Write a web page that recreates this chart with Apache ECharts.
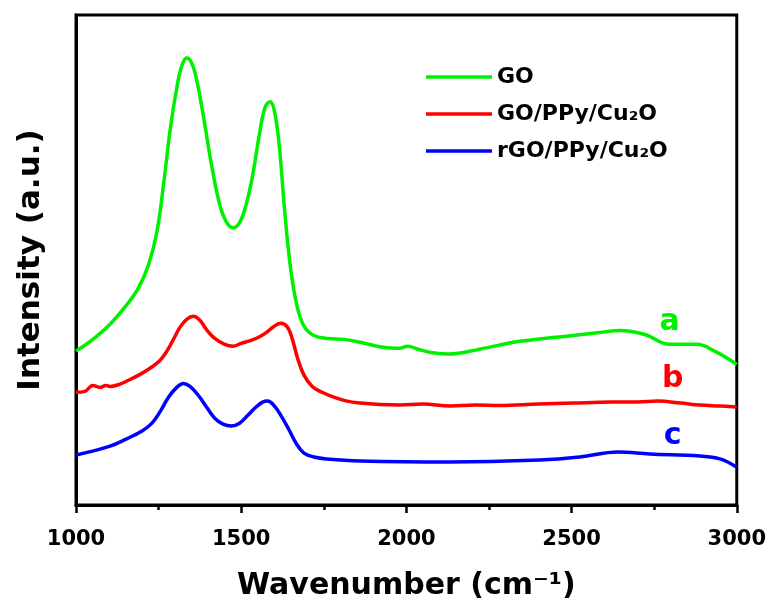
<!DOCTYPE html>
<html>
<head>
<meta charset="utf-8">
<script src="https://cdn.jsdelivr.net/npm/echarts@6/dist/echarts.min.js"></script>
<style>html,body{margin:0;padding:0;background:#fff}#c{width:769px;height:606px}</style>
</head>
<body>
<div id="c"></div>
<script>
// Wavenumber positions and intensities (arbitrary units)
const goX = [1000,1051,1103,1154,1190,1220,1245,1265,1285,1305,1320,1335,1350,1365,1385,1410,1435,1455,1475,1495,1515,1535,1555,1572,1587,1600,1615,1630,1648,1668,1690,1720,1760,1810,1860,1930,1980,2005,2035,2086,2129,2222,2343,2504,2585,2646,2722,2797,2879,2933,3000];
const goY = [31.4,33.8,36.9,40.9,44.4,49.1,55.8,65.4,76.6,85.1,89.6,91.2,90.2,86.8,79.6,69.5,61.3,57.8,56.6,57.6,61.3,67.4,75.6,81.1,82.3,80.6,73.5,61.3,49.1,40.9,36.5,34.6,34.0,33.8,33.2,32.2,32.0,32.4,31.8,31.0,30.8,31.8,33.4,34.6,35.2,35.6,34.8,32.8,32.8,31.4,28.7];

const gppX = [1000,1027,1051,1073,1090,1103,1130,1154,1190,1224,1254,1275,1295,1315,1335,1355,1375,1395,1420,1450,1475,1500,1530,1557,1580,1600,1620,1640,1655,1670,1690,1715,1745,1780,1820,1860,1920,1980,2050,2132,2210,2283,2400,2504,2620,2700,2761,2830,2888,2950,3000];
const gppY = [23.0,23.2,24.4,24.0,24.4,24.2,24.6,25.3,26.5,27.9,29.5,31.4,33.8,36.3,37.9,38.5,37.7,35.8,34.0,32.8,32.4,33.0,33.6,34.4,35.4,36.5,37.1,36.3,33.8,30.1,26.5,24.2,23.0,22.0,21.2,20.8,20.5,20.4,20.6,20.2,20.4,20.3,20.6,20.8,21.0,21.0,21.2,20.8,20.4,20.2,20.0];

const rgoX = [1000,1050,1103,1150,1200,1230,1255,1280,1305,1325,1345,1370,1395,1420,1445,1470,1495,1520,1545,1565,1580,1598,1620,1645,1668,1690,1720,1760,1860,2132,2404,2525,2640,2737,2888,2949,3000];
const rgoY = [10.2,11.0,12.0,13.4,15.1,16.7,19.1,22.0,24.0,24.8,24.2,22.4,20.0,17.7,16.5,16.1,16.7,18.3,20.0,21.0,21.2,20.4,18.3,15.3,12.4,10.6,9.8,9.4,9.0,8.8,9.2,9.8,10.8,10.4,10.0,9.4,7.7];

const seriesNames = ['GO', 'GO/PPy/Cu\u2082O', 'rGO/PPy/Cu\u2082O'];
const curveLetters = ['a', 'b', 'c'];
const xTicks = [1000, 1500, 2000, 2500, 3000];

const zip = (xs, ys) => xs.map((x, i) => [x, ys[i]]);
const FONT = '"DejaVu Sans", "Liberation Sans", Arial, sans-serif';
const colors = ['#00f000', '#ff0000', '#0000ff'];
const letterPos = [[2797, 37.3], [2806, 25.7], [2806, 14.1]];

const chart = echarts.init(document.getElementById('c'), null, {renderer: 'canvas'});
const datasets = [zip(goX, goY), zip(gppX, gppY), zip(rgoX, rgoY)];

chart.setOption({
  animation: false,
  backgroundColor: '#ffffff',
  grid: {left: 76, right: 32, top: 15, bottom: 100, show: true, borderColor: '#000', borderWidth: 3, backgroundColor: 'transparent'},
  legend: {
    orient: 'vertical', left: 421, top: 61,
    icon: 'rect',
    itemWidth: 66, itemHeight: 3.5, itemGap: 15,
    textStyle: {fontFamily: FONT, fontWeight: 'bold', fontSize: 22, color: '#000', lineHeight: 22},
    data: seriesNames
  },
  xAxis: {
    type: 'value', min: 1000, max: 3000, interval: 500,
    name: 'Wavenumber (cm\u207B\u00B9)', nameLocation: 'middle', nameGap: 66,
    nameTextStyle: {fontFamily: FONT, fontWeight: 'bold', fontSize: 30, color: '#000'},
    axisLine: {show: true, lineStyle: {color: '#000', width: 3}},
    axisTick: {show: true, inside: false, length: 8, lineStyle: {color: '#000', width: 2.5}},
    minorTick: {show: true, splitNumber: 2, length: 5, lineStyle: {color: '#000', width: 2.5}},
    axisLabel: {fontFamily: FONT, fontWeight: 'bold', fontSize: 21, color: '#000', margin: 24,
      formatter: v => xTicks.includes(v) ? String(v) : ''},
    splitLine: {show: false}
  },
  yAxis: {
    type: 'value', min: 0, max: 100,
    name: 'Intensity (a.u.)', nameLocation: 'middle', nameGap: 30,
    nameTextStyle: {fontFamily: FONT, fontWeight: 'bold', fontSize: 31, color: '#000'},
    axisLine: {show: true, lineStyle: {color: '#000', width: 3}},
    axisTick: {show: false}, axisLabel: {show: false}, splitLine: {show: false}
  },
  series: datasets.map((d, i) => ({
    name: seriesNames[i], type: 'line', data: d, smooth: 0.4,
    symbol: 'none', showSymbol: false,
    lineStyle: {color: colors[i], width: 3.5}, itemStyle: {color: colors[i]},
    markPoint: {
      symbol: 'circle', symbolSize: 1, itemStyle: {color: 'transparent'},
      label: {show: true, position: 'inside', formatter: curveLetters[i], fontFamily: FONT, fontWeight: 'bold', fontSize: 30, color: colors[i]},
      data: [{coord: letterPos[i]}]
    }
  }))
});
</script>
</body>
</html>
